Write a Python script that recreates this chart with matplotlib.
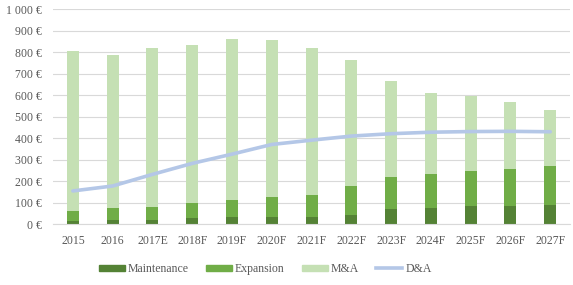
#!/usr/bin/env python3
# Capex split (maintenance / expansion / M&A) with D&A overlay.

import matplotlib
matplotlib.use("Agg")
from matplotlib import pyplot as plt
from matplotlib.patches import Patch
from matplotlib.lines import Line2D
import numpy as np

YEARS = ["2015", "2016", "2017E", "2018F", "2019F", "2020F", "2021F",
         "2022F", "2023F", "2024F", "2025F", "2026F", "2027F"]
MAINTENANCE = [17, 18, 21, 28, 32, 33, 35, 42, 71, 77, 84, 86, 90]
EXPANSION = [46, 59, 58, 71, 81, 92, 103, 136, 150, 158, 164, 172, 179]
MNA = [742, 708, 738, 734, 748, 732, 679, 584, 446, 376, 347, 312, 262]
DNA = [155, 178, 232, 283, 326, 371, 391, 410, 421, 428, 431, 432, 430]

C_MAINT = "#548235"
C_EXP = "#70AD47"
C_MNA = "#C5E0B4"
C_DNA = "#B4C7E7"


def main():
    plt.rcParams["font.family"] = ["Liberation Serif", "DejaVu Serif"]
    fig = plt.figure(figsize=(5.73, 2.85), dpi=100)
    ax = fig.add_axes([0.0925, 0.213, 0.9025, 0.755])

    x = np.arange(len(YEARS))
    width = 0.3
    maint = np.array(MAINTENANCE)
    exp_ = np.array(EXPANSION)
    mna = np.array(MNA)

    ax.bar(x, maint, width, color=C_MAINT, zorder=2)
    ax.bar(x, exp_, width, bottom=maint, color=C_EXP, zorder=2)
    ax.bar(x, mna, width, bottom=maint + exp_, color=C_MNA, zorder=2)
    ax.plot(x, DNA, color=C_DNA, lw=2.6, solid_capstyle="round", zorder=3)

    ax.set_xlim(-0.5, len(YEARS) - 0.5)
    ax.set_ylim(0, 1000)
    ax.set_yticks(np.arange(0, 1001, 100))
    ax.set_yticklabels([f"{v:,}".replace(",", " ") + " €"
                        for v in range(0, 1001, 100)])
    ax.set_xticks(x)
    ax.set_xticklabels(YEARS)
    ax.tick_params(axis="both", length=0, labelsize=8.5, colors="#595959")
    ax.tick_params(axis="x", pad=8)
    ax.tick_params(axis="y", pad=8)
    ax.yaxis.grid(True, color="#D9D9D9", lw=0.8, zorder=0)
    ax.set_axisbelow(True)
    for s in ("top", "right", "left"):
        ax.spines[s].set_visible(False)
    ax.spines["bottom"].set_color("#D9D9D9")

    handles = [
        Patch(color=C_MAINT, label="Maintenance"),
        Patch(color=C_EXP, label="Expansion"),
        Patch(color=C_MNA, label="M&A"),
        Line2D([], [], color=C_DNA, lw=2.6, label="D&A"),
    ]
    leg = fig.legend(handles=handles, loc="center", bbox_to_anchor=(0.463, 0.057),
                     ncol=4, frameon=False, fontsize=8.5, handlelength=2.2,
                     handleheight=0.4, columnspacing=1.45, handletextpad=0.25)
    for t in leg.get_texts():
        t.set_color("#595959")

    fig.savefig("out.png", dpi=100)
    plt.close(fig)


if __name__ == "__main__":
    main()
